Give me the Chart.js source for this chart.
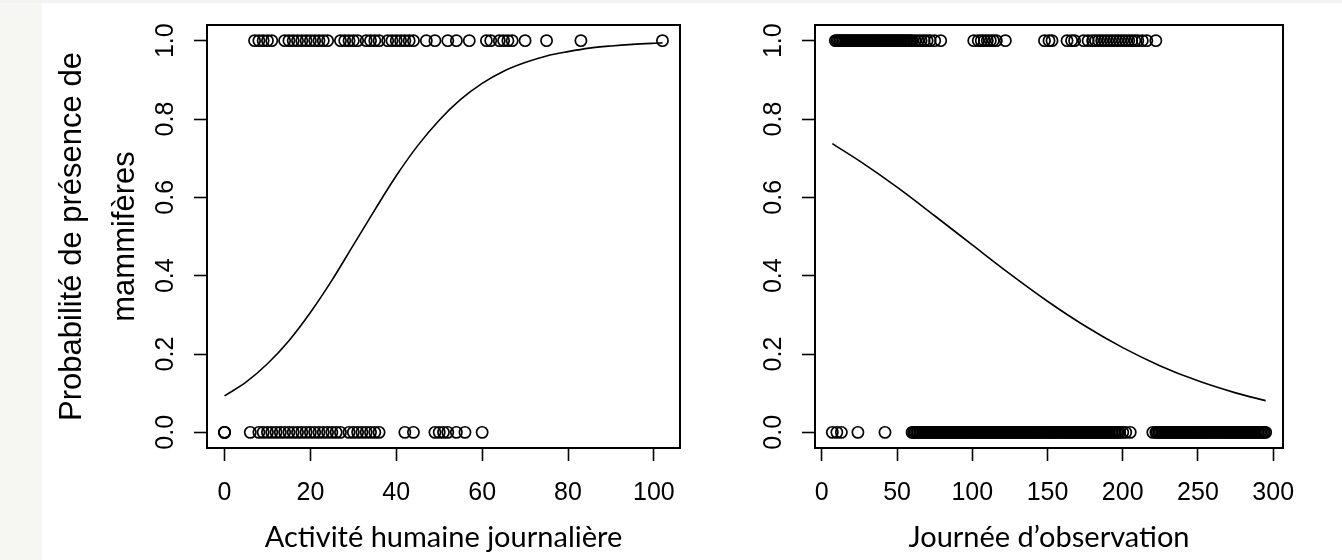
<!DOCTYPE html>
<html><head><meta charset="utf-8">
<script src="https://cdn.jsdelivr.net/npm/chart.js@4.4.1/dist/chart.umd.min.js"></script>
<style>
html,body{margin:0;padding:0;background:#fff;}
#wrap{position:relative;width:1342px;height:560px;overflow:hidden;background:#fff;}
#strip{position:absolute;left:0;top:0;width:42px;height:560px;background:#f6f6f2;}
#topstrip{position:absolute;left:0;top:0;width:1342px;height:3px;background:#f3f3f1;}
canvas{position:absolute;top:0;}
#c1{left:0;} #c2{left:700px;}
</style></head><body>
<div id="wrap"><div id="strip"></div><div id="topstrip"></div>
<canvas id="c1" width="700" height="560"></canvas>
<canvas id="c2" width="642" height="560"></canvas>
</div>
<script>
// ---- data ----
const yTicks = [0, 0.2, 0.4, 0.6, 0.8, 1];
const yTickLabels = ["0.0", "0.2", "0.4", "0.6", "0.8", "1.0"];
const activityTicks = [0, 20, 40, 60, 80, 100];
const dayTicks = [0, 50, 100, 150, 200, 250, 300];

// Left panel: daily human activity, mammals present (y=1) / absent (y=0)
const activityPresent = [7, 8, 9, 10, 11, 14, 15, 16, 17, 18, 19, 20, 21, 22, 23, 24, 27, 28, 29, 30, 31,
  33, 34, 35, 36, 38, 39, 40, 41, 42, 43, 44, 47, 49, 52, 54, 57, 61, 62, 64, 65, 66, 67, 70, 75, 83, 102];
const activityAbsent = [0, 0, 0, 6, 8, 9, 10, 11, 12, 13, 14, 15, 16, 17, 18, 19, 20, 21, 22, 23, 24, 25, 26, 27,
  29, 30, 31, 32, 33, 34, 35, 36, 42, 44, 49, 50, 51, 52, 54, 56, 60];
const activityCurveX = [0, 5, 10, 15, 20, 25, 30, 35, 40, 45, 50, 55, 60, 65, 70, 75, 80, 85, 90, 95, 100, 102];
const activityCurveY = [0.093, 0.128, 0.175, 0.234, 0.306, 0.388, 0.478, 0.568, 0.655, 0.732, 0.797, 0.850,
  0.891, 0.922, 0.944, 0.961, 0.972, 0.981, 0.9865, 0.9906, 0.9934, 0.9943];

// Right panel: observation day
const dayPresent = [9, 10, 11, 12, 13, 14, 15, 16, 17, 18, 19, 20, 21, 22, 23, 24, 25, 26, 27, 28, 29, 30, 31, 32,
  33, 34, 35, 36, 37, 38, 39, 40, 41, 42, 43, 44, 45, 46, 47, 48, 49, 50, 51, 52, 53, 54, 55, 56, 57, 58, 59, 60,
  62, 64, 66, 68, 70, 72, 75, 79,
  101, 104, 106, 108, 110, 112, 114, 116, 122,
  148, 151, 153, 163, 166, 168, 174, 177, 180, 182, 184, 186, 188, 190, 192, 194, 196, 198, 200, 202, 204, 206,
  208, 210, 213, 216, 222];
const dayAbsent = [7, 10, 13, 24, 42,
  60, 61, 62, 63, 64, 65, 66, 67, 68, 69, 70, 71, 72, 73, 74, 75, 76, 77, 78, 79, 80, 81, 82, 83, 84, 85, 86, 87,
  88, 89, 90, 91, 92, 93, 94, 95, 96, 97, 98, 99, 100, 101, 102, 103, 104, 105, 106, 107, 108, 109, 110, 111,
  112, 113, 114, 115, 116, 117, 118, 119, 120, 121, 122, 123, 124, 125, 126, 127, 128, 129, 130, 131, 132, 133,
  134, 135, 136, 137, 138, 139, 140, 141, 142, 143, 144, 145, 146, 147, 148, 149, 150, 151, 152, 153, 154, 155,
  156, 157, 158, 159, 160, 161, 162, 163, 164, 165, 166, 167, 168, 169, 170, 171, 172, 173, 174, 175, 176, 177,
  178, 179, 180, 181, 182, 183, 184, 185, 186, 187, 188, 189, 190, 191, 192, 193, 194, 195, 196, 197, 198, 200,
  202, 205,
  220, 222, 223, 224, 225, 226, 227, 228, 229, 230, 231, 232, 233, 234, 235, 236, 237, 238, 239, 240, 241, 242,
  243, 244, 245, 246, 247, 248, 249, 250, 251, 252, 253, 254, 255, 256, 257, 258, 259, 260, 261, 262, 263, 264,
  265, 266, 267, 268, 269, 270, 271, 272, 273, 274, 275, 276, 277, 278, 279, 280, 281, 282, 283, 284, 285, 286,
  287, 288, 289, 290, 291, 292, 293, 294, 295];
const dayCurveX = [7, 25, 50, 75, 100, 125, 150, 175, 200, 225, 250, 275, 295];
const dayCurveY = [0.737, 0.693, 0.626, 0.553, 0.4785, 0.4045, 0.3347, 0.2714, 0.2162, 0.1696, 0.1314, 0.1007, 0.0809];

// ---- rendering ----
const TICK_FONT = {family: '"Liberation Sans", Arial, sans-serif', size: 25};
const TITLE_FONT_X = {family: 'Lato, "Open Sans", sans-serif', size: 29};

function rRange(arrs) {
  let mn = Infinity, mx = -Infinity;
  arrs.forEach(a => a.forEach(v => { if (v < mn) mn = v; if (v > mx) mx = v; }));
  const d = (mx - mn) * 0.04;
  return [mn - d, mx + d];
}

const framePlugin = {
  id: 'frame',
  afterDraw(chart) {
    const {ctx, chartArea: a} = chart;
    ctx.save();
    ctx.strokeStyle = '#000';
    ctx.lineWidth = 2;
    ctx.strokeRect(a.left, a.top, a.right - a.left, a.bottom - a.top);
    const ys = chart.scales.y;
    ctx.fillStyle = '#000';
    ctx.font = TICK_FONT.size + 'px ' + TICK_FONT.family;
    ctx.textAlign = 'center';
    ctx.textBaseline = 'middle';
    yTicks.forEach((v, i) => {
      const py = ys.getPixelForValue(v);
      ctx.save();
      ctx.translate(a.left - 41, py);
      ctx.rotate(-Math.PI / 2);
      ctx.fillText(yTickLabels[i], 0, 0);
      ctx.restore();
    });
    ctx.restore();
  }
};

function makePanel(id, cfg) {
  const [xmin, xmax] = rRange([cfg.present, cfg.absent]);
  const pts = cfg.present.map(v => ({x: v, y: 1})).concat(cfg.absent.map(v => ({x: v, y: 0})));
  const curve = cfg.curveX.map((v, i) => ({x: v, y: cfg.curveY[i]}));
  new Chart(document.getElementById(id), {
    type: 'scatter',
    data: {
      datasets: [
        {type: 'line', data: curve, borderColor: '#000', borderWidth: 1.6, pointRadius: 0,
         cubicInterpolationMode: 'monotone', fill: false},
        {data: pts, pointStyle: 'circle', pointRadius: 5.6, borderColor: '#000', borderWidth: 1.7,
         backgroundColor: 'rgba(0,0,0,0)', showLine: false}
      ]
    },
    options: {
      responsive: false, animation: false, devicePixelRatio: 1,
      layout: {padding: {top: 25, right: cfg.padRight, left: 0, bottom: 0}},
      plugins: {legend: {display: false}, tooltip: {enabled: false}},
      events: [],
      scales: {
        x: {
          type: 'linear', min: xmin, max: xmax,
          afterBuildTicks: s => { s.ticks = cfg.xTicks.map(v => ({value: v})); },
          afterFit: s => { s.height = 112; },
          grid: {drawOnChartArea: false, drawTicks: true, tickLength: 13, tickColor: '#000', tickWidth: 1.6},
          border: {display: false},
          ticks: {color: '#000', font: TICK_FONT, padding: 17, maxRotation: 0, autoSkip: false},
          title: {display: true, text: cfg.xTitle, color: '#000', font: TITLE_FONT_X, padding: {top: 0, bottom: 5}}
        },
        y: {
          type: 'linear', min: -0.04, max: 1.04,
          afterBuildTicks: s => { s.ticks = yTicks.map(v => ({value: v})); },
          afterFit: s => { s.width = cfg.yWidth; },
          grid: {drawOnChartArea: false, drawTicks: true, tickLength: 13, tickColor: '#000', tickWidth: 1.6},
          border: {display: false},
          ticks: {display: false},
          title: cfg.yTitle ? {display: true, text: cfg.yTitle, color: '#000',
            font: {family: '"Liberation Sans", Arial, sans-serif', size: 31, lineHeight: 1.71},
            padding: {top: 46, bottom: 0}} : {display: false}
        }
      }
    },
    plugins: [framePlugin]
  });
}

makePanel('c1', {present: activityPresent, absent: activityAbsent, curveX: activityCurveX, curveY: activityCurveY,
  xTicks: activityTicks, xTitle: 'Activité humaine journalière', yWidth: 207, padRight: 20,
  yTitle: ['Probabilité de présence de', 'mammifères']});
makePanel('c2', {present: dayPresent, absent: dayAbsent, curveX: dayCurveX, curveY: dayCurveY,
  xTicks: dayTicks, xTitle: 'Journée d’observation', yWidth: 115, padRight: 59, yTitle: null});
</script>
</body></html>
